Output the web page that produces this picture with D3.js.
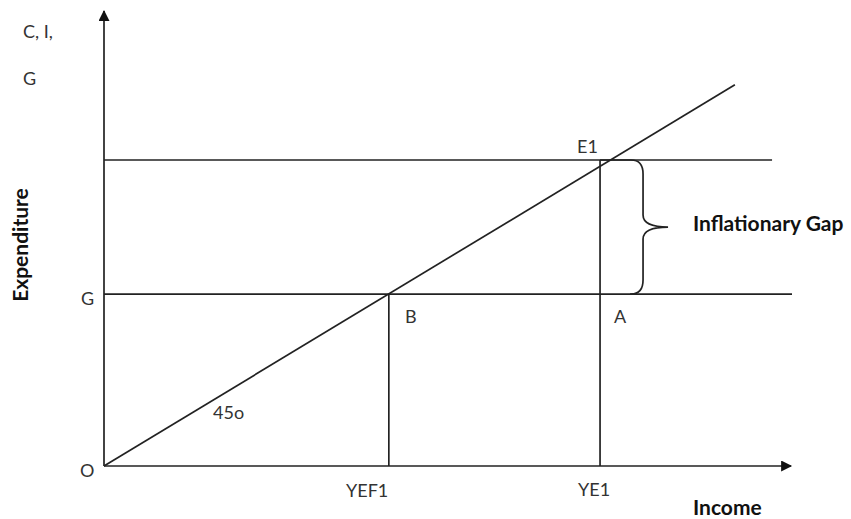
<!DOCTYPE html>
<html lang="en">
<head>
    <meta charset="UTF-8">
    <title>Inflationary Gap</title>
    <script src="https://d3js.org/d3.v7.min.js"></script>
    <style>
        body { margin: 0; background: #fff; font-family: Lato, "Open Sans", sans-serif; }
        .ln { stroke: #222; stroke-width: 1.7px; fill: none; }
        .lbl { font-size: 18px; fill: #333; }
        .bold { font-weight: bold; fill: #111; font-size: 21px; }
    </style>
</head>
<body>
    <svg width="851" height="519"></svg>
    <script>
        // model units: 0..100 on both axes
        const incomeMarks = [
            { name: "YEF1", x: 41.4 },
            { name: "YE1", x: 72.1 }
        ];
        const spendLevels = [
            { name: "G", y: 37.7, end: 100 },
            { name: "E1", y: 67.1, end: 97.1 }
        ];
        const lineEnd = { x: 91.7, y: 83.6 };

        const width = 851, height = 519;
        const svg = d3.select("svg");

        const x = d3.scaleLinear().domain([0, 100]).range([104, 792]);
        const y = d3.scaleLinear().domain([0, 100]).range([466, 10]);

        // arrow heads
        svg.append("defs").append("marker")
            .attr("id", "arr")
            .attr("viewBox", "0 0 10 10")
            .attr("refX", 9).attr("refY", 5)
            .attr("markerWidth", 13).attr("markerHeight", 11)
            .attr("markerUnits", "userSpaceOnUse")
            .attr("orient", "auto")
            .append("path").attr("d", "M0,0 L10,5 L0,10 Z").attr("fill", "#111");

        // axes
        svg.append("line").attr("class", "ln")
            .attr("x1", x(0)).attr("y1", y(0)).attr("x2", x(0)).attr("y2", y(100) + 1)
            .attr("marker-end", "url(#arr)");
        svg.append("line").attr("class", "ln")
            .attr("x1", x(0)).attr("y1", y(0)).attr("x2", x(100) - 1).attr("y2", y(0))
            .attr("marker-end", "url(#arr)");

        // 45 degree line
        svg.append("line").attr("class", "ln")
            .attr("x1", x(0)).attr("y1", y(0)).attr("x2", x(lineEnd.x)).attr("y2", y(lineEnd.y));

        // horizontal spending levels
        svg.selectAll(".hl").data(spendLevels).enter().append("line")
            .attr("class", "ln hl")
            .attr("x1", x(0)).attr("x2", d => x(d.end))
            .attr("y1", d => y(d.y)).attr("y2", d => y(d.y));

        // vertical income lines
        svg.append("line").attr("class", "ln")
            .attr("x1", x(incomeMarks[0].x)).attr("x2", x(incomeMarks[0].x))
            .attr("y1", y(0)).attr("y2", y(spendLevels[0].y));
        svg.append("line").attr("class", "ln")
            .attr("x1", x(incomeMarks[1].x)).attr("x2", x(incomeMarks[1].x))
            .attr("y1", y(0)).attr("y2", y(spendLevels[1].y));

        // brace for the gap
        const bx = x(incomeMarks[1].x), yt = y(spendLevels[1].y), yb = y(spendLevels[0].y);
        const ym = (yt + yb) / 2, vx = bx + 43, tip = bx + 68;
        const brace = d3.path();
        brace.moveTo(bx, yt);
        brace.lineTo(vx - 12, yt);
        brace.quadraticCurveTo(vx, yt, vx, yt + 14);
        brace.lineTo(vx, ym - 12);
        brace.quadraticCurveTo(vx, ym, tip, ym);
        brace.quadraticCurveTo(vx, ym, vx, ym + 12);
        brace.lineTo(vx, yb - 14);
        brace.quadraticCurveTo(vx, yb, vx - 12, yb);
        brace.lineTo(bx + 30, yb);
        svg.append("path").attr("class", "ln").attr("d", brace.toString());

        // labels
        const labels = [
            { t: "C, I,", px: 23, py: 38 },
            { t: "G", px: 23, py: 85 },
            { t: "G", px: 81, py: 305 },
            { t: "O", px: 80, py: 477 },
            { t: "E1", px: 577, py: 153 },
            { t: "B", px: 405, py: 323 },
            { t: "A", px: 614, py: 323 },
            { t: "45o", px: 213, py: 419 },
            { t: "YEF1", px: 346, py: 497 },
            { t: "YE1", px: 578, py: 496 }
        ];
        svg.selectAll(".lbl").data(labels).enter().append("text")
            .attr("class", "lbl")
            .attr("x", d => d.px).attr("y", d => d.py)
            .text(d => d.t);

        svg.append("text").attr("class", "bold")
            .attr("x", 693).attr("y", 231)
            .text("Inflationary Gap");
        svg.append("text").attr("class", "bold")
            .attr("x", 693).attr("y", 515)
            .text("Income");
        svg.append("text").attr("class", "bold")
            .attr("transform", "translate(28,245) rotate(-90)")
            .attr("text-anchor", "middle")
            .text("Expenditure");
    </script>
</body>
</html>
